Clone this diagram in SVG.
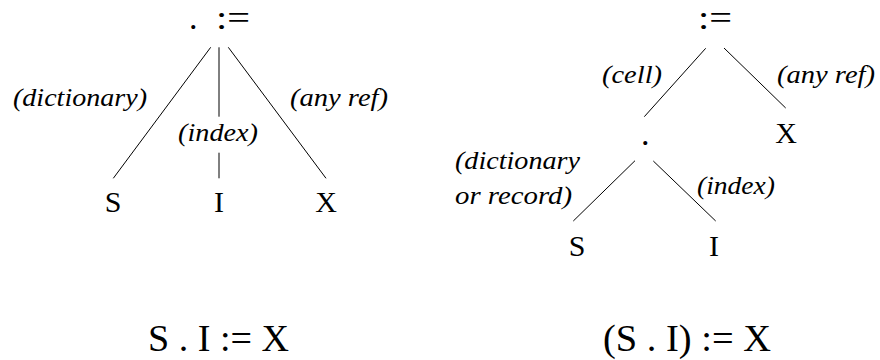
<svg xmlns="http://www.w3.org/2000/svg" width="880" height="360" viewBox="0 0 880 360">
<style>
.n{font-family:"Liberation Serif","Times New Roman",serif;font-size:30px;fill:#000;text-anchor:middle}
.o{font-family:"Liberation Serif","Times New Roman",serif;font-size:34px;fill:#000}
.l{font-family:"Liberation Serif","Times New Roman",serif;font-size:26px;font-style:italic;fill:#000}
.e{font-family:"Liberation Serif","Times New Roman",serif;font-size:38px;fill:#000}
.c line{stroke:#000;stroke-width:1}
</style>
<rect width="880" height="360" fill="#fff"/>
<g class="c" id="connectors">
<line x1="210.7" y1="47.3" x2="113.3" y2="178.3"/>
<line x1="219" y1="47.3" x2="219" y2="116.7"/>
<line x1="219" y1="152.7" x2="219" y2="178.3"/>
<line x1="228.3" y1="47.3" x2="326" y2="178.3"/>
<line x1="705.7" y1="48.3" x2="644.3" y2="116.7"/>
<line x1="724" y1="48" x2="785.7" y2="108"/>
<line x1="635" y1="160.7" x2="573.3" y2="221"/>
<line x1="653.3" y1="161" x2="715.7" y2="221"/>
</g>
<g id="left-root"><text class="o" x="189" y="29">.</text><text class="o" x="216" y="29" textLength="34" lengthAdjust="spacingAndGlyphs">:=</text></g>
<g id="left-S"><text class="n" x="113" y="212">S</text></g>
<g id="left-I"><text class="n" x="219" y="212">I</text></g>
<g id="left-X"><text class="n" x="326" y="212">X</text></g>
<g id="left-labels">
<text class="l" x="13" y="106" textLength="134" lengthAdjust="spacingAndGlyphs">(dictionary)</text>
<text class="l" x="178" y="141" textLength="80" lengthAdjust="spacingAndGlyphs">(index)</text>
<text class="l" x="290" y="106" textLength="98" lengthAdjust="spacingAndGlyphs">(any ref)</text>
</g>
<g id="right-root"><text class="o" x="698" y="29" textLength="34" lengthAdjust="spacingAndGlyphs">:=</text></g>
<g id="right-dot"><text class="o" x="641" y="145">.</text></g>
<g id="right-X"><text class="n" x="786" y="143">X</text></g>
<g id="right-S"><text class="n" x="577" y="256">S</text></g>
<g id="right-I"><text class="n" x="714" y="256">I</text></g>
<g id="right-labels">
<text class="l" x="602" y="83" textLength="60" lengthAdjust="spacingAndGlyphs">(cell)</text>
<text class="l" x="777" y="83" textLength="98" lengthAdjust="spacingAndGlyphs">(any ref)</text>
<text class="l" x="455" y="169" textLength="125" lengthAdjust="spacingAndGlyphs">(dictionary</text>
<text class="l" x="455" y="204" textLength="117" lengthAdjust="spacingAndGlyphs">or record)</text>
<text class="l" x="697" y="194" textLength="78" lengthAdjust="spacingAndGlyphs">(index)</text>
</g>
<g id="expr-left"><text class="e" x="148" y="351" textLength="141" lengthAdjust="spacingAndGlyphs">S . I := X</text></g>
<g id="expr-right"><text class="e" x="603" y="351" textLength="168" lengthAdjust="spacingAndGlyphs">(S . I) := X</text></g>
</svg>
